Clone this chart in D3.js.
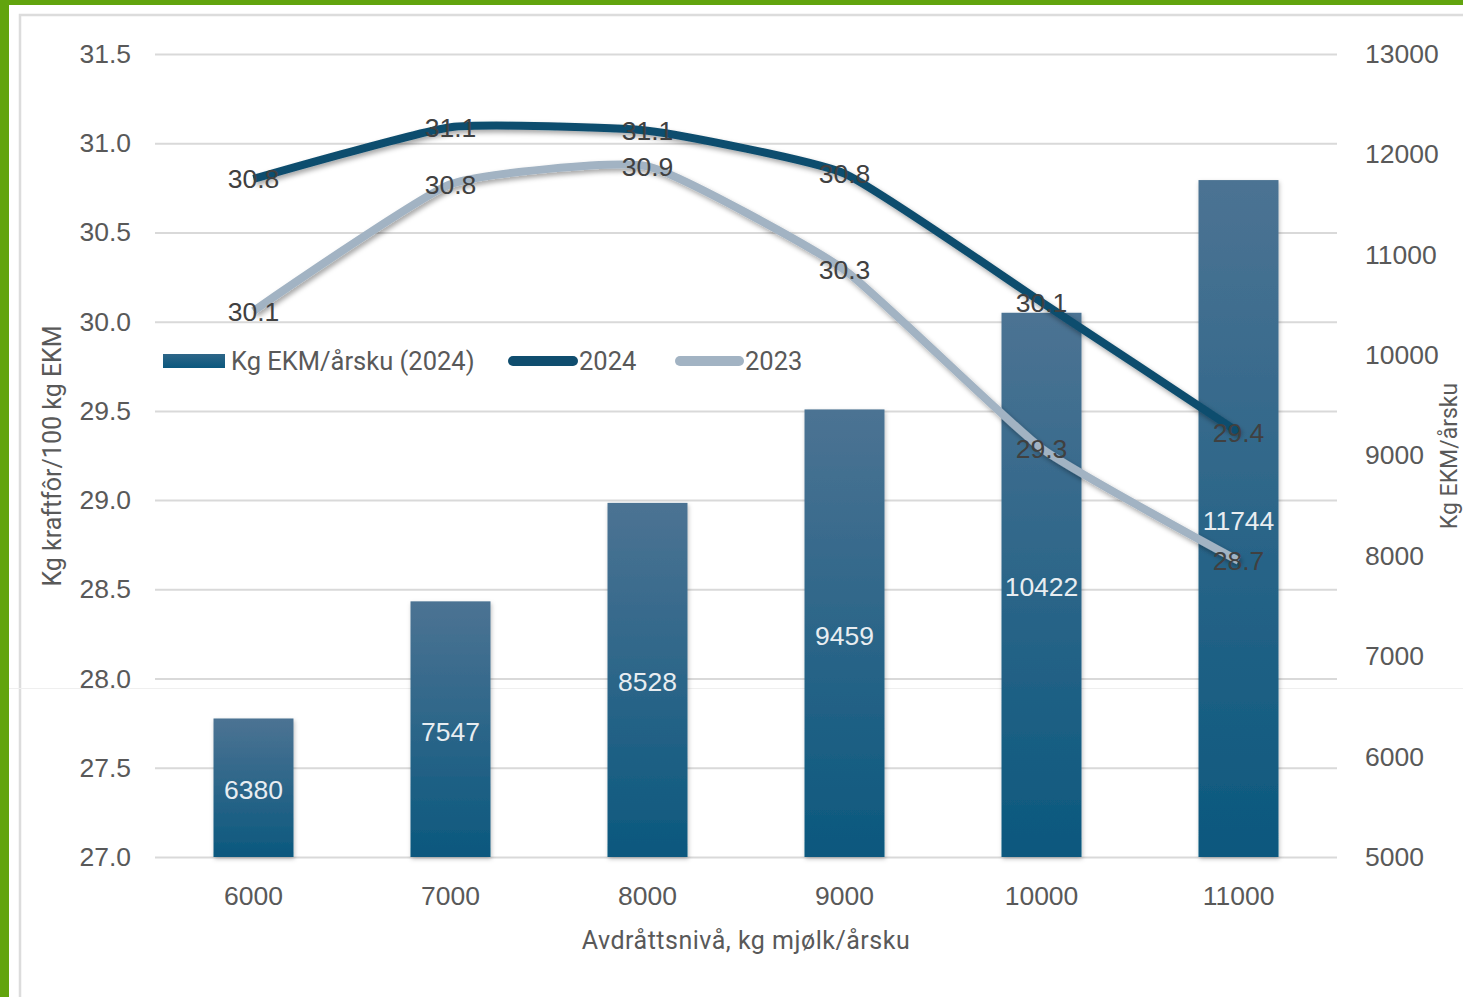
<!DOCTYPE html>
<html>
<head>
<meta charset="utf-8">
<script src="https://cdn.jsdelivr.net/npm/d3@7/dist/d3.min.js"></script>
<style>
  html, body { margin: 0; padding: 0; background: #ffffff; overflow: hidden; }
  svg { display: block; }
</style>
</head>
<body>
<script>
// ---- Data ----
const categories = ["6000", "7000", "8000", "9000", "10000", "11000"];
const ekm2024 = [6380, 7547, 8528, 9459, 10422, 11744];
const kraftfor2024 = [30.80, 31.09, 31.07, 30.83, 30.11, 29.38];
const kraftfor2023 = [30.06, 30.77, 30.87, 30.29, 29.29, 28.66];
const leftTicks = [27.0, 27.5, 28.0, 28.5, 29.0, 29.5, 30.0, 30.5, 31.0, 31.5];
const rightTicks = [5000, 6000, 7000, 8000, 9000, 10000, 11000, 12000, 13000];
const seriesNames = ["Kg EKM/årsku (2024)", "2024", "2023"];
const xTitle = "Avdråttsnivå, kg mjølk/årsku";
const yLeftTitle = "Kg kraftfôr/100 kg EKM";
const yRightTitle = "Kg EKM/årsku";

// ---- Layout ----
const W = 1463, H = 997;
const plot = { left: 155, right: 1337, top: 54, bottom: 857 };
const colors = { dark: "#0f4d6e", light: "#a2b3c3", grid: "#d9d9d9", text: "#595959", label: "#404040" };

const svg = d3.select("body").append("svg").attr("width", W).attr("height", H);
const defs = svg.append("defs");

const grad = defs.append("linearGradient").attr("id", "barGrad")
  .attr("x1", 0).attr("y1", 0).attr("x2", 0).attr("y2", 1);
grad.append("stop").attr("offset", "0%").attr("stop-color", "#4c7393");
grad.append("stop").attr("offset", "100%").attr("stop-color", "#0b587e");

const gradL = defs.append("linearGradient").attr("id", "legGrad")
  .attr("x1", 0).attr("y1", 0).attr("x2", 0).attr("y2", 1);
gradL.append("stop").attr("offset", "0%").attr("stop-color", "#2e6688");
gradL.append("stop").attr("offset", "100%").attr("stop-color", "#0b587e");

const shadow = defs.append("filter").attr("id", "shadow")
  .attr("x", "-20%").attr("y", "-20%").attr("width", "140%").attr("height", "140%");
shadow.append("feDropShadow").attr("dx", 2).attr("dy", 3).attr("stdDeviation", 2.5)
  .attr("flood-color", "#000").attr("flood-opacity", 0.35);

const shadowBar = defs.append("filter").attr("id", "shadowBar")
  .attr("x", "-20%").attr("y", "-20%").attr("width", "140%").attr("height", "140%");
shadowBar.append("feDropShadow").attr("dx", 1).attr("dy", 2).attr("stdDeviation", 2)
  .attr("flood-color", "#000").attr("flood-opacity", 0.25);

// ---- Frame ----
svg.append("rect").attr("x", 0).attr("y", 0).attr("width", W).attr("height", H).attr("fill", "#ffffff");
svg.append("rect").attr("x", 20).attr("y", 15).attr("width", W).attr("height", H)
  .attr("fill", "none").attr("stroke", "#dcdcdc").attr("stroke-width", 2.5);
svg.append("rect").attr("x", 0).attr("y", 0).attr("width", 9).attr("height", H).attr("fill", "#62a40e");
svg.append("rect").attr("x", 0).attr("y", 0).attr("width", W).attr("height", 5).attr("fill", "#62a40e");
svg.append("line").attr("x1", 9).attr("x2", W).attr("y1", 688.5).attr("y2", 688.5)
  .attr("stroke", "#efefef").attr("stroke-width", 1);

// ---- Scales ----
const x = d3.scaleBand().domain(categories).range([plot.left, plot.right])
  .paddingInner(0.594).paddingOuter(0.297);
const yL = d3.scaleLinear().domain([27, 31.5]).range([plot.bottom, plot.top]);
const yR = d3.scaleLinear().domain([5000, 13000]).range([plot.bottom, plot.top]);

// ---- Grid ----
svg.append("g").attr("transform", `translate(${plot.left},0)`)
  .call(d3.axisLeft(yL).tickValues(leftTicks).tickSize(-(plot.right - plot.left)).tickFormat(""))
  .call(g => g.select(".domain").remove())
  .call(g => g.selectAll("line").attr("stroke", colors.grid).attr("stroke-width", 2));

// ---- Axes ----
const tickFont = "'Liberation Sans', Arial, sans-serif";
svg.append("g").attr("transform", `translate(131,0)`)
  .call(d3.axisLeft(yL).tickValues(leftTicks).tickSize(0).tickPadding(0).tickFormat(d3.format(".1f")))
  .call(g => g.select(".domain").remove())
  .call(g => g.selectAll("text").attr("fill", colors.text).style("font-family", tickFont).style("font-size", "26.5px"));

svg.append("g").attr("transform", `translate(1365,0)`)
  .call(d3.axisRight(yR).tickValues(rightTicks).tickSize(0).tickPadding(0).tickFormat(d3.format("d")))
  .call(g => g.select(".domain").remove())
  .call(g => g.selectAll("text").attr("fill", colors.text).style("font-family", tickFont).style("font-size", "26.5px"));

svg.append("g").attr("transform", `translate(0,${plot.bottom + 29})`)
  .call(d3.axisBottom(x).tickSize(0).tickPadding(0))
  .call(g => g.select(".domain").remove())
  .call(g => g.selectAll("text").attr("fill", colors.text).attr("dy", "0.71em").style("font-family", tickFont).style("font-size", "26.5px"));

// ---- Axis titles ----
const titleFont = "Roboto, 'Noto Sans', sans-serif";
svg.append("text").attr("x", 746).attr("y", 949)
  .attr("text-anchor", "middle").attr("fill", colors.text)
  .style("font-family", titleFont).style("font-size", "25px").style("letter-spacing", "0.5px").text(xTitle);
svg.append("text").attr("transform", `translate(61,456) rotate(-90)`)
  .attr("text-anchor", "middle").attr("fill", colors.text)
  .style("font-family", titleFont).style("font-size", "25px").text(yLeftTitle);
svg.append("text").attr("transform", `translate(1457,456) rotate(-90)`)
  .attr("text-anchor", "middle").attr("fill", colors.text)
  .style("font-family", titleFont).style("font-size", "23px").text(yRightTitle);

// ---- Bars ----
const barData = categories.map((c, i) => ({ c, v: ekm2024[i] }));
svg.append("g").selectAll("rect").data(barData).join("rect")
  .attr("x", d => x(d.c)).attr("width", x.bandwidth())
  .attr("y", d => yR(d.v)).attr("height", d => yR(5000) - yR(d.v))
  .attr("fill", "url(#barGrad)").attr("filter", "url(#shadowBar)");

svg.append("g").selectAll("text").data(barData).join("text")
  .attr("x", d => x(d.c) + x.bandwidth() / 2)
  .attr("y", d => (yR(d.v) + yR(5000)) / 2 + 2)
  .attr("dy", "0.36em").attr("text-anchor", "middle")
  .attr("fill", "#e8edf1").style("font-family", tickFont).style("font-size", "26.5px")
  .text(d => d.v);

// ---- Lines ----
const cx = c => x(c) + x.bandwidth() / 2;
const line = d3.line().x(d => cx(d.c)).y(d => yL(d.v)).curve(d3.curveCardinal.tension(0.55));
const s2023 = categories.map((c, i) => ({ c, v: kraftfor2023[i] }));
const s2024 = categories.map((c, i) => ({ c, v: kraftfor2024[i] }));

svg.append("path").datum(s2023).attr("d", line).attr("fill", "none")
  .attr("stroke", colors.light).attr("stroke-width", 8).attr("stroke-linejoin", "round")
  .attr("filter", "url(#shadow)");
svg.append("path").datum(s2024).attr("d", line).attr("fill", "none")
  .attr("stroke", colors.dark).attr("stroke-width", 8).attr("stroke-linejoin", "round")
  .attr("filter", "url(#shadow)");

// ---- Line labels ----
[s2024, s2023].forEach(s => {
  svg.append("g").selectAll("text").data(s).join("text")
    .attr("x", d => cx(d.c)).attr("y", d => yL(d.v))
    .attr("dy", "0.36em").attr("text-anchor", "middle")
    .attr("fill", colors.label).style("font-family", tickFont).style("font-size", "26.5px")
    .text(d => d3.format(".1f")(d.v));
});

// ---- Legend ----
const leg = svg.append("g").style("font-family", titleFont).style("font-size", "25.5px").attr("fill", colors.text);
leg.append("rect").attr("x", 163).attr("y", 354).attr("width", 62).attr("height", 14)
  .attr("fill", "url(#legGrad)");
leg.append("text").attr("x", 231).attr("y", 370).text(seriesNames[0]);
leg.append("line").attr("x1", 513).attr("x2", 573).attr("y1", 361).attr("y2", 361)
  .attr("stroke", colors.dark).attr("stroke-width", 10).attr("stroke-linecap", "round");
leg.append("text").attr("x", 579).attr("y", 370).text(seriesNames[1]);
leg.append("line").attr("x1", 680).attr("x2", 739).attr("y1", 361).attr("y2", 361)
  .attr("stroke", colors.light).attr("stroke-width", 10).attr("stroke-linecap", "round");
leg.append("text").attr("x", 745).attr("y", 370).text(seriesNames[2]);
</script>
</body>
</html>
